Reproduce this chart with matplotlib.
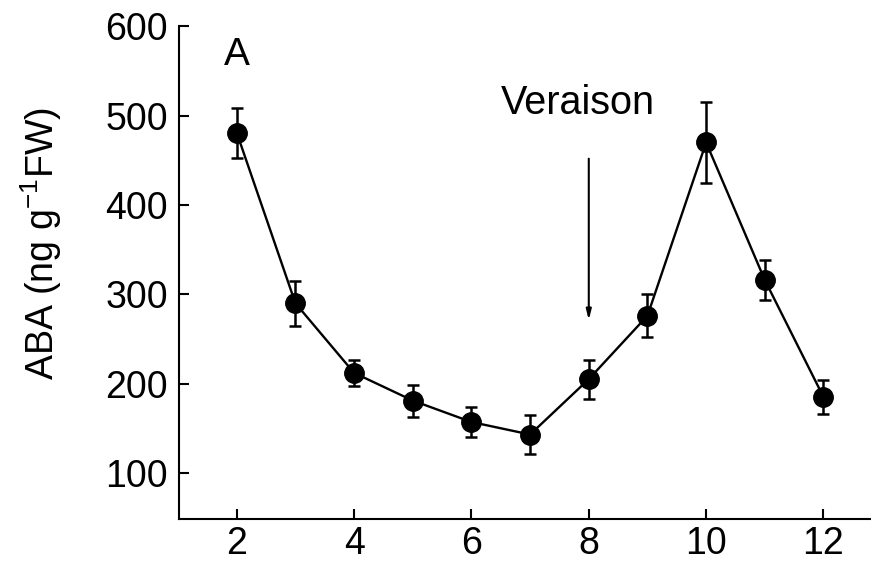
import matplotlib
matplotlib.use("Agg")
import matplotlib.pyplot as plt

weeks = [2, 3, 4, 5, 6, 7, 8, 9, 10, 11, 12]
aba = [481, 290, 212, 181, 157, 143, 205, 276, 470, 316, 185]
err = [28, 25, 15, 18, 17, 22, 22, 24, 45, 22, 19]
xticks = [2, 4, 6, 8, 10, 12]
yticks = [100, 200, 300, 400, 500, 600]

plt.rcParams['font.family'] = ['Liberation Sans', 'DejaVu Sans']

fig = plt.figure(figsize=(8.71, 5.68), dpi=100)
ax = fig.add_axes([179/871, 1-519/568, 1-179/871, (519-26.4)/568])

ax.errorbar(weeks, aba, yerr=err, color='black', marker='o', markersize=14,
            linewidth=1.7, elinewidth=1.8, capsize=4.5, capthick=1.8, clip_on=False)

ax.set_xlim(1.016, 12.81)
ax.set_ylim(48.4, 600)
ax.set_xticks(xticks)
ax.set_yticks(yticks)
ax.tick_params(direction='in', length=7, width=1.5, labelsize=27)
ax.tick_params(axis='x', pad=5)
ax.tick_params(axis='y', pad=8)
for s in ['top', 'right']:
    ax.spines[s].set_visible(False)
for s in ['left', 'bottom']:
    ax.spines[s].set_linewidth(1.5)

ax.set_ylabel('ABA (ng g$^{\\mathregular{-1}}$FW)', fontsize=27, labelpad=30, y=0.56)

ax.text(2, 568, 'A', fontsize=28, ha='center', va='center')
ax.annotate('', xy=(8, 268), xytext=(8, 455),
            arrowprops=dict(arrowstyle='-|>,head_length=0.6,head_width=0.15',
                            color='black', lw=1.5))
ax.text(7.82, 514, 'Veraison', fontsize=28.5, ha='center', va='center')

fig.savefig('out.png', dpi=100)
